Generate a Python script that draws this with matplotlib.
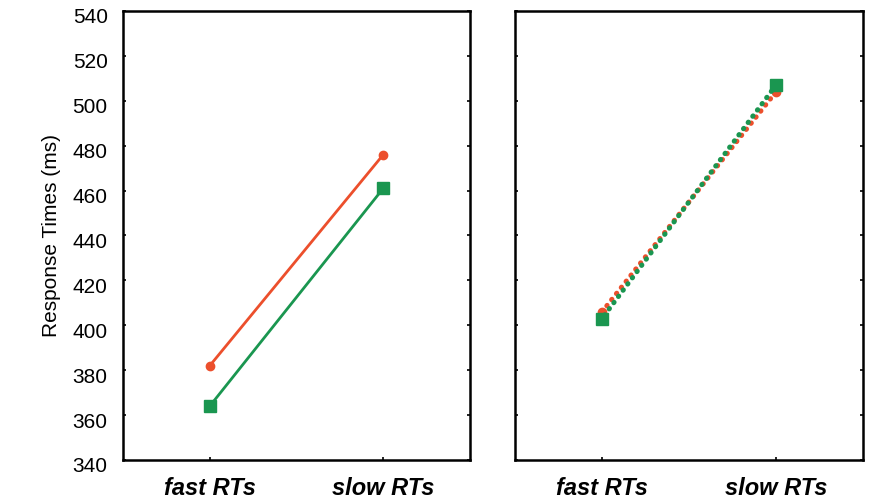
import matplotlib
matplotlib.use("Agg")
import matplotlib.pyplot as plt
import matplotlib.transforms as mtransforms

plt.rcParams['font.family'] = ['Liberation Sans', 'DejaVu Sans']

conditions = ['fast RTs', 'slow RTs']
xpos = [1, 2]

# left panel
left_red = [382, 476]
left_green = [364, 461]
# right panel
right_red = [406, 504]
right_green = [403, 507]

red = '#ec4f2c'
green = '#1a9650'

fig = plt.figure(figsize=(8.76, 5.04), dpi=100)
ax1 = fig.add_axes([123 / 876, 1 - 460 / 504, 347 / 876, 449 / 504])
ax2 = fig.add_axes([515 / 876, 1 - 460 / 504, 348 / 876, 449 / 504])

ax1.plot(xpos, left_red, color=red, lw=2, marker='o', ms=6)
ax1.plot(xpos, left_green, color=green, lw=2, marker='s', ms=8)

ax2.plot(xpos, right_red, color=red, lw=3.6, linestyle=(0, (0.1, 1.45)),
         dash_capstyle='round', marker='o', ms=6)
ax2.plot(xpos, right_green, color=green, lw=3.6, linestyle=(0.7, (0.1, 1.45)),
         dash_capstyle='round', marker='s', ms=9)

for ax in (ax1, ax2):
    ax.set_xlim(0.5, 2.5)
    ax.set_ylim(340, 540)
    ax.set_yticks(range(340, 541, 20))
    ax.set_xticks(xpos)
    ax.set_xticklabels(conditions, fontsize=17, fontweight='bold', fontstyle='italic')
    ax.tick_params(direction='in', length=2.5, width=1.2, top=False, right=True)
    ax.tick_params(axis='x', pad=12)
    for s in ax.spines.values():
        s.set_linewidth(1.8)

ax1.tick_params(axis='y', labelsize=15, pad=11)
ax2.set_yticklabels([])
ax1.set_ylabel('Response Times (ms)', fontsize=15, labelpad=8)

# shift y tick labels slightly down as in the original
offset = mtransforms.ScaledTranslation(0, -5 / 100, fig.dpi_scale_trans)
for lab in ax1.get_yticklabels():
    lab.set_transform(lab.get_transform() + offset)

fig.savefig('out.png', dpi=100)
